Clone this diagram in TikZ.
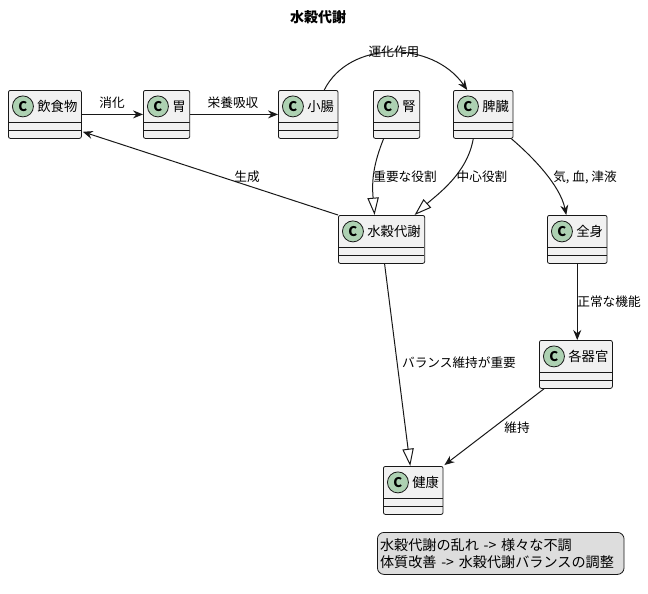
\documentclass[tikz,border=0pt]{standalone}
\usepackage{fontspec}
\setmainfont{Noto Sans CJK JP}
\usetikzlibrary{arrows.meta,positioning,calc}
\definecolor{ink}{HTML}{181818}
\definecolor{boxfill}{HTML}{F1F1F1}
\definecolor{spot}{HTML}{ADD1B2}
\definecolor{notefill}{HTML}{DDDDDD}
\tikzset{cls/.style={draw=ink,fill=boxfill,line width=.6pt,rounded corners=1.5pt,anchor=north west,
    font=\fontsize{10}{12}\selectfont,inner xsep=3pt,inner ysep=3pt,text height=12.75pt,text depth=17.25pt,
    path picture={\draw[ink,line width=.6pt] ([yshift=12pt]path picture bounding box.south west) -- ([yshift=12pt]path picture bounding box.south east)
      ([yshift=6pt]path picture bounding box.south west) -- ([yshift=6pt]path picture bounding box.south east);
      \node[circle,draw=ink,fill=spot,line width=.6pt,minimum size=15.75pt,inner sep=0pt,anchor=center,text height=,text depth=,
        font=\bfseries\fontsize{10}{12}\selectfont] at ([xshift=10.9pt,yshift=-12pt]path picture bounding box.north west) {C};}},
  lbl/.style={font=\fontsize{9.5}{11}\selectfont,inner sep=0pt},
  arr/.style={ink,line width=.75pt,-{Stealth[length=7.5pt,width=6pt,inset=2.5pt]}},
  ext/.style={ink,line width=.75pt,-{Triangle[open,length=13pt,width=8.5pt]}}}
\begin{document}
\begin{tikzpicture}[x=.75pt,y=-.75pt]
\useasboundingbox (0,0) rectangle (648,593);
\node[font=\bfseries\fontsize{10.5}{12}\selectfont] (title) at (318,17) {水穀代謝};
\foreach \n/\x/\y/\t in {food/8/90/飲食物,stomach/143/90/胃,intestine/278/90/小腸,kidney/373/90/腎,spleen/453/90/脾臓,
  metab/338/215/水穀代謝,body/547/215/全身,organs/539/340/各器官,health/383/466/健康}{
  \node[cls] (\n) at (\x,\y) {\hspace*{18.75pt}\t};}
\draw[arr] (food) -- (stomach);
\draw[arr] (stomach) -- (intestine);
\draw[arr] ($(intestine.north)+(16,0)$) .. controls +(25,-50) and +(-35,-50) .. ($(spleen.north)+(-16,0)$);
\draw[ext] ($(kidney.south)+(-13,0)$) .. controls +(-10,25) and +(-3,-35) .. ($(metab.north)+(-7,0)$);
\draw[ext] ($(spleen.south)+(-10,0)$) .. controls +(-6,35) and +(22,-20) .. ($(metab.north)+(33,0)$);
\draw[arr] ($(spleen.south east)+(-2,0)$) .. controls +(20,17) and +(-6,-30) .. ($(body.north)+(-11,0)$);
\draw[arr] (metab.north west) -- ($(food.south east)+(1,-7)$);
\draw[ext] ($(metab.south)+(3,0)$) -- ($(health.north)+(-3,0)$);
\draw[arr] (body.south) -- (body.south |- organs.north);
\draw[arr] ($(organs.south west)+(5,0)$) -- ($(health.north east)+(1,-1)$);
\node[lbl] (lDigest) at (112,103) {消化};
\node[lbl] (lAbsorb) at (233,103) {栄養吸収};
\node[lbl] (lTransform) at (394,52) {運化作用};
\node[lbl] (lRole) at (405,177) {重要な役割};
\node[lbl] (lCentral) at (482,177) {中心役割};
\node[lbl] (lQi) at (585,177) {気, 血, 津液};
\node[lbl] (lMake) at (247,177) {生成};
\node[lbl] (lBalance) at (459,363) {バランス維持が重要};
\node[lbl] (lFunction) at (609,302) {正常な機能};
\node[lbl] (lKeep) at (517,428) {維持};
\node[draw=ink,fill=notefill,line width=.6pt,rounded corners=5pt,anchor=north west,align=left,text width=181pt,
  inner xsep=2pt,minimum height=31.5pt,font=\fontsize{10.6}{12.75}\selectfont] (note) at (377,532)
  {水穀代謝の乱れ -> 様々な不調\\体質改善 -> 水穀代謝バランスの調整};
\end{tikzpicture}
\end{document}
